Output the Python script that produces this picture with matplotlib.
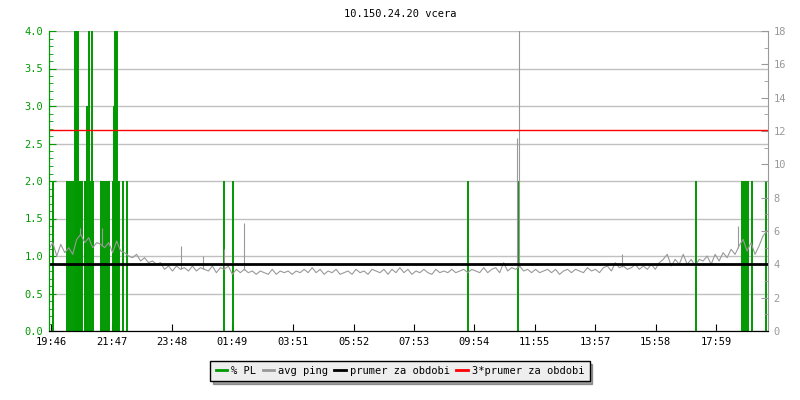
"""Ping / packet loss chart for 10.150.24.20 (vcera)."""

import matplotlib
matplotlib.use("Agg")
import matplotlib.pyplot as plt
import numpy as np
from matplotlib.lines import Line2D
from matplotlib.ticker import MultipleLocator

plt.rcParams["font.family"] = ["DejaVu Sans Mono"]
plt.rcParams["font.size"] = 7

# x axis: minutes after 19:46
tick_labels = ["19:46", "21:47", "23:48", "01:49", "03:51", "05:52",
               "07:53", "09:54", "11:55", "13:57", "15:58", "17:59"]
tick_minutes = [0, 121, 242, 363, 485, 606, 727, 848, 969, 1091, 1212, 1333]

# avg ping [ms], one sample every 8 minutes starting at -5
ping_start = -5
ping_step = 8
ping_ms = [
    4.9, 5.3, 4.5, 5.2, 4.7, 5.0, 4.6, 5.5, 5.8, 5.3,
    5.6, 5.0, 5.3, 5.2, 5.0, 5.3, 4.7, 5.4, 4.8, 4.7,
    4.5, 4.4, 4.6, 4.2, 4.4, 4.1, 4.2, 4.0, 4.1, 3.7,
    3.9, 3.6, 3.9, 3.7, 3.8, 3.6, 3.9, 3.6, 3.8, 3.7,
    3.6, 3.9, 3.5, 3.8, 3.7, 3.9, 3.4, 3.7, 3.5, 3.7,
    3.5, 3.6, 3.4, 3.6, 3.5, 3.4, 3.7, 3.4, 3.6, 3.5,
    3.6, 3.4, 3.6, 3.5, 3.7, 3.5, 3.8, 3.5, 3.7, 3.4,
    3.6, 3.5, 3.7, 3.4, 3.5, 3.6, 3.4, 3.7, 3.5, 3.6,
    3.4, 3.7, 3.6, 3.5, 3.7, 3.4, 3.7, 3.5, 3.8, 3.5,
    3.7, 3.4, 3.6, 3.5, 3.7, 3.5, 3.4, 3.7, 3.5, 3.6,
    3.5, 3.7, 3.5, 3.6, 3.7, 3.5, 3.7, 3.6, 3.5, 3.8,
    3.5, 3.7, 3.8, 3.5, 4.1, 3.6, 3.8, 3.7, 3.9, 3.6,
    3.7, 3.5, 3.7, 3.5, 3.6, 3.7, 3.5, 3.7, 3.4, 3.6,
    3.7, 3.5, 3.7, 3.6, 3.5, 3.8, 3.6, 3.7, 3.5, 3.8,
    3.9, 3.6, 4.1, 3.8, 3.9, 3.7, 3.8, 4.0, 3.7, 3.9,
    3.7, 4.0, 3.7, 4.1, 4.3, 4.6, 3.9, 4.3, 4.0, 4.6,
    4.0, 4.3, 3.9, 4.3, 4.2, 4.5, 4.0, 4.6, 4.2, 4.7,
    4.4, 4.9, 4.6, 5.1, 5.5, 4.8, 5.3, 4.6, 5.1, 5.7,
    6.0,
]

# short ping spikes [minute, ms]
spike_min = [58, 102, 260, 304, 346, 386, 934, 937, 1144, 1377]
spike_ms = [6.2, 6.2, 5.1, 4.5, 4.9, 6.5, 11.6, 20.0, 4.6, 6.3]

avg_ping = 4.02  # prumer za obdobi [ms]

# packet loss [%]
pl_min = [3, 31, 35, 40, 44, 48, 50, 52, 54, 56, 58, 60, 62, 68, 70, 72,
          76, 78, 82, 84, 100, 104, 108, 112, 116, 124, 126, 128, 130, 132,
          134, 136, 144, 152, 346, 364, 836, 936, 1293, 1385, 1389, 1393,
          1397, 1405, 1433]
pl_val = [2, 2, 2, 2, 2, 6, 3, 6, 6, 2, 2, 2, 2, 2, 2, 3,
          6, 2, 6, 2, 2, 2, 2, 2, 2, 2, 3, 6, 6, 6,
          2, 2, 2, 2, 2, 2, 2, 2, 2, 2, 2, 2,
          2, 2, 2]

GREEN = "#009900"
GREY = "#999999"

fig = plt.figure(figsize=(8, 4), dpi=100)
ax = fig.add_axes([49 / 800, 69 / 400, 719 / 800, 300 / 400])
ax2 = ax.twinx()

t = ping_start + ping_step * np.arange(len(ping_ms))
ping = np.array(ping_ms)

ax.vlines(pl_min, 0, pl_val, color=GREEN, lw=1.4)
ax2.plot(t, ping, color=GREY, lw=0.8)
ax2.vlines(spike_min, np.interp(spike_min, t, ping), spike_ms, color=GREY, lw=0.8)
ax2.axhline(avg_ping, color="black", lw=2)
ax2.axhline(3 * avg_ping, color="red", lw=1)

ax.set_xlim(-4.6, 1437)
ax.set_ylim(0, 4)
ax2.set_ylim(0, 18)

ax.set_xticks(tick_minutes, tick_labels)
ax.yaxis.set_major_locator(MultipleLocator(0.5))
ax.yaxis.set_minor_locator(MultipleLocator(0.1))
ax.yaxis.set_major_formatter("{x:.1f}")
ax2.yaxis.set_major_locator(MultipleLocator(2))
ax2.yaxis.set_minor_locator(MultipleLocator(1))

ax.grid(axis="y", color="#c0c0c0", lw=1)
ax.set_axisbelow(True)

ax.tick_params(axis="x", direction="in", length=5, pad=4, labelsize=7.5)
ax.tick_params(axis="y", which="both", direction="in", colors=GREEN, pad=4,
               labelsize=7.5)
ax.tick_params(axis="y", which="major", length=5)
ax.tick_params(axis="y", which="minor", length=3)
ax2.tick_params(axis="y", which="both", direction="in", colors=GREY, pad=4,
                labelsize=7.5)
ax2.tick_params(axis="y", which="major", length=5)
ax2.tick_params(axis="y", which="minor", length=3)

for a in (ax, ax2):
    a.spines["top"].set_visible(False)
ax2.spines["left"].set_color(GREEN)
ax2.spines["right"].set_color(GREY)
ax2.spines["bottom"].set_color("black")
ax.spines["left"].set_color(GREEN)
ax.spines["right"].set_visible(False)

fig.text(0.5, 1 - 14 / 400, "10.150.24.20 vcera", ha="center", va="center",
         fontsize=7.5)

handles = [Line2D([], [], color=c, lw=2) for c in (GREEN, GREY, "black", "red")]
labels = ["% PL", "avg ping", "prumer za obdobi", "3*prumer za obdobi"]
leg = fig.legend(handles, labels, loc="center", bbox_to_anchor=(0.5, 29 / 400),
                 ncol=4, frameon=True, fancybox=False, shadow=True,
                 handlelength=1.1, handletextpad=0.4, columnspacing=0.6,
                 borderpad=0.5, fontsize=7.5)
leg.get_frame().set_facecolor("#eeeeee")
leg.get_frame().set_edgecolor("black")
leg.get_frame().set_alpha(1)

fig.savefig("out.png", dpi=100)
